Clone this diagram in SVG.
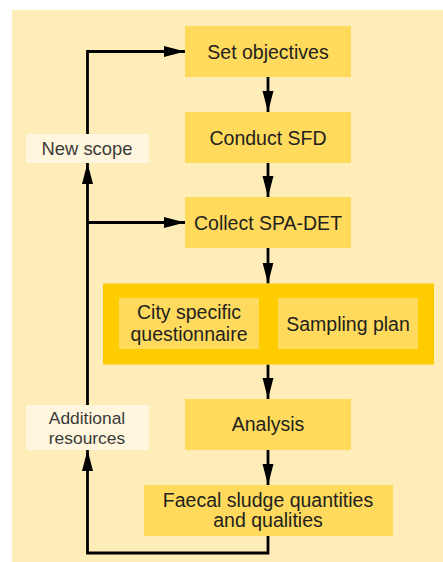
<svg xmlns="http://www.w3.org/2000/svg" width="443" height="562" viewBox="0 0 443 562">
<style>
.node{fill:#FFDA5C}
.group{fill:#FFCC00}
.label{fill:#FFF6DD}
.nt{font-family:"Liberation Sans",Arial,sans-serif;font-size:19.5px;fill:#231F20;text-anchor:middle}
.lt{font-family:"Liberation Sans",Arial,sans-serif;font-size:18.4px;fill:#3A3A3A;text-anchor:middle}
.lt2{font-size:17.4px}
.edge{fill:none;stroke:#000;stroke-width:2.8;stroke-linejoin:miter}
</style>
<defs>
<marker id="arr" markerUnits="userSpaceOnUse" markerWidth="22" markerHeight="12" refX="21" refY="5.5" orient="auto">
<path d="M0,0 L21,5.5 L0,11 z" fill="#000"/>
</marker>
</defs>
<rect x="0" y="0" width="443" height="562" fill="#FFFFFF"/>
<rect x="12" y="10" width="431" height="552" fill="#FEEDB9"/>
<g id="connectors">
<path class="edge" d="M268,77 V112" marker-end="url(#arr)"/>
<path class="edge" d="M268,163 V197" marker-end="url(#arr)"/>
<path class="edge" d="M268,248 V283.5" marker-end="url(#arr)"/>
<path class="edge" d="M268,364.5 V399" marker-end="url(#arr)"/>
<path class="edge" d="M268,450 V485" marker-end="url(#arr)"/>
<path class="edge" d="M268,536 V553 H87.5 V450" marker-end="url(#arr)"/>
<path class="edge" d="M87.5,405 V163" marker-end="url(#arr)"/>
<path class="edge" d="M87.5,222.5 H185" marker-end="url(#arr)"/>
<path class="edge" d="M87.5,134 V51.5 H185" marker-end="url(#arr)"/>
</g>
<g id="set-objectives">
<rect class="node" x="185" y="26" width="166" height="51"/>
<text class="nt" x="268" y="59">Set objectives</text>
</g>
<g id="conduct-sfd">
<rect class="node" x="185" y="112" width="166" height="51"/>
<text class="nt" x="268" y="145">Conduct SFD</text>
</g>
<g id="collect-spa-det">
<rect class="node" x="185" y="197" width="166" height="51"/>
<text class="nt" x="268" y="230">Collect SPA-DET</text>
</g>
<g id="plan-group">
<rect class="group" x="103" y="283.5" width="331" height="81"/>
<g id="city-questionnaire">
<rect class="node" x="119" y="298" width="140" height="51"/>
<text class="nt" x="189" y="319.3">City specific</text>
<text class="nt" x="189" y="341">questionnaire</text>
</g>
<g id="sampling-plan">
<rect class="node" x="278" y="298" width="140" height="51"/>
<text class="nt" x="348" y="330.7">Sampling plan</text>
</g>
</g>
<g id="analysis">
<rect class="node" x="185" y="399" width="166" height="51"/>
<text class="nt" x="268" y="431">Analysis</text>
</g>
<g id="faecal-sludge">
<rect class="node" x="144" y="485" width="249" height="51"/>
<text class="nt" x="268" y="506.7">Faecal sludge quantities</text>
<text class="nt" x="268" y="526.7">and qualities</text>
</g>
<g id="new-scope">
<rect class="label" x="26" y="134" width="123" height="29"/>
<text class="lt" x="87" y="155">New scope</text>
</g>
<g id="additional-resources">
<rect class="label" x="26" y="405" width="123" height="45"/>
<text class="lt lt2" x="87" y="424.3">Additional</text>
<text class="lt lt2" x="87" y="443.8">resources</text>
</g>
</svg>
